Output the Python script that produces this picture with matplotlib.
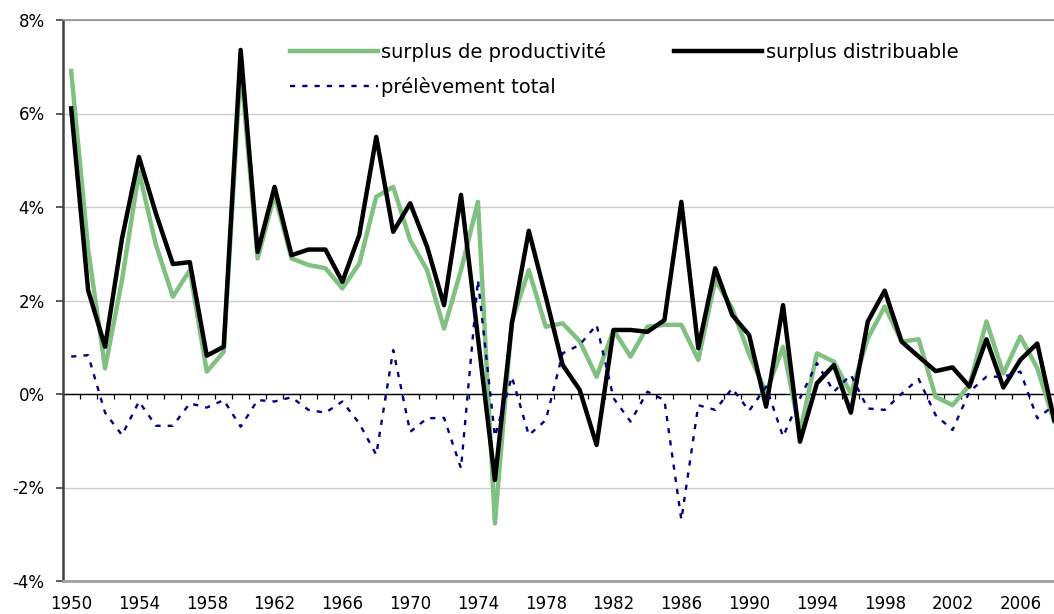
import matplotlib.pyplot as plt
import numpy as np

# data (% per year)
years = list(range(1950, 2009))

surplus_productivite = [
    6.91, 3.10, 0.55, 2.44, 4.75, 3.19, 2.08, 2.65, 0.48, 0.90,
    7.00, 2.90, 4.26, 2.90, 2.76, 2.69, 2.26, 2.79, 4.22, 4.43,
    3.29, 2.65, 1.40, 2.65, 4.11, -2.77, 1.55, 2.65, 1.44, 1.51,
    1.13, 0.37, 1.37, 0.80, 1.44, 1.48, 1.48, 0.73, 2.44, 1.83,
    0.85, 0.03, 1.01, -0.82, 0.87, 0.69, 0.01, 1.19, 1.87, 1.12,
    1.17, -0.06, -0.24, 0.19, 1.55, 0.44, 1.23, 0.55, -0.59]

surplus_distribuable = [
    6.11, 2.22, 1.01, 3.33, 5.07, 3.86, 2.78, 2.82, 0.82, 1.01,
    7.36, 3.04, 4.43, 2.97, 3.09, 3.09, 2.40, 3.40, 5.50, 3.47,
    4.08, 3.15, 1.90, 4.26, 1.20, -1.84, 1.50, 3.49, 2.08, 0.62,
    0.09, -1.09, 1.37, 1.37, 1.33, 1.58, 4.11, 0.98, 2.69, 1.69,
    1.26, -0.27, 1.90, -1.02, 0.23, 0.62, -0.40, 1.55, 2.21, 1.12,
    0.80, 0.49, 0.57, 0.16, 1.17, 0.14, 0.73, 1.08, -0.56]

prelevement_total = [
    0.80, 0.83, -0.40, -0.88, -0.16, -0.68, -0.68, -0.20, -0.29, -0.13,
    -0.70, -0.13, -0.16, -0.07, -0.34, -0.40, -0.16, -0.63, -1.30, 0.94,
    -0.81, -0.52, -0.51, -1.59, 2.44, -0.91, 0.37, -0.88, -0.56, 0.87,
    1.05, 1.48, -0.09, -0.59, 0.05, -0.13, -2.69, -0.24, -0.34, 0.12,
    -0.36, 0.16, -0.91, -0.09, 0.66, 0.05, 0.41, -0.31, -0.34, 0.01,
    0.32, -0.45, -0.77, 0.05, 0.37, 0.37, 0.48, -0.52, -0.24]

ytick_values = [-4, -2, 0, 2, 4, 6, 8]
ytick_labels = ['-4%', '-2%', '0%', '2%', '4%', '6%', '8%']
xtick_years = list(range(1950, 2007, 4))

W, H = 1054, 614
fig = plt.figure(figsize=(W / 100, H / 100), dpi=100)
# plot area runs past the right edge of the picture, as in the reference
ax = fig.add_axes([62.7 / W, 33 / H, 1000 / W, 561 / H])

x = np.arange(len(years))
l_prod, = ax.plot(x, surplus_productivite, color='#80c080', lw=3.2,
                  label=u'surplus de productivité', zorder=3)
l_dist, = ax.plot(x, surplus_distribuable, color='black', lw=3.2,
                  label='surplus distribuable', zorder=4)
l_prel, = ax.plot(x, prelevement_total, color='#000080', lw=1.7,
                  ls=(0, (2.2, 3.0)), label=u'prélèvement total', zorder=5)

ax.set_xlim(-0.5, len(years) - 0.5)
ax.set_ylim(-4, 8)

# zero line with small category ticks hanging below it
ax.axhline(0, color='black', lw=1, zorder=2)
ax.vlines(x[:-1] + 0.5, 0, -0.1, color='black', lw=0.9, zorder=2)

ax.set_yticks(ytick_values)
ax.set_yticklabels(ytick_labels)
ax.yaxis.grid(True, color='#cccccc', lw=1)
ax.set_axisbelow(True)
ax.tick_params(axis='y', direction='out', length=5, width=1.2,
               color='#404040', pad=8, labelsize=12)

ax.set_xticks([years.index(y) for y in xtick_years])
ax.set_xticklabels([str(y) for y in xtick_years])
ax.tick_params(axis='x', length=0, pad=10, labelsize=12)

ax.spines['right'].set_visible(False)
ax.spines['left'].set_color('#404040')
ax.spines['left'].set_linewidth(1.8)
ax.spines['top'].set_color('#909090')
ax.spines['top'].set_linewidth(1.2)
ax.spines['bottom'].set_color('#a0a0a0')
ax.spines['bottom'].set_linewidth(2)

ax.legend(handles=[l_prod, l_prel, l_dist], ncol=2, frameon=False,
          loc='upper left', bbox_to_anchor=(290 / W, 1 - 42 / H),
          bbox_transform=fig.transFigure, fontsize=14,
          handlelength=4.5, handletextpad=0.2, columnspacing=3.5,
          labelspacing=0.78, borderpad=0, borderaxespad=0)

fig.savefig('out.png', dpi=100)
